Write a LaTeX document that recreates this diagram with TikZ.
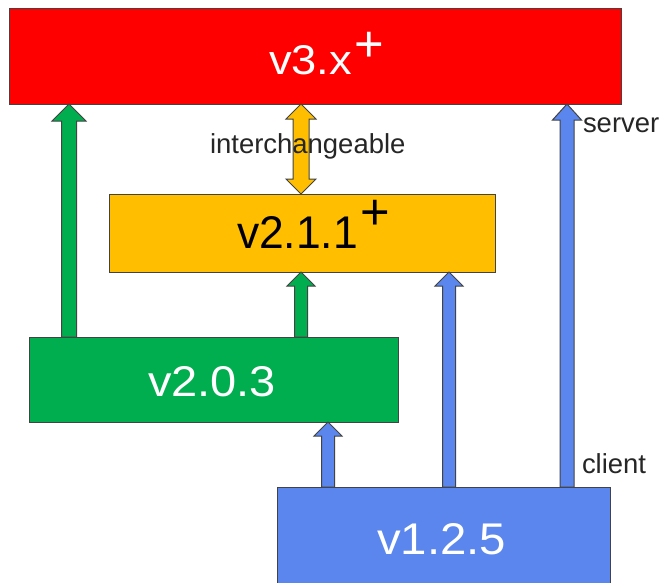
\documentclass[tikz,border=0pt]{standalone}
\usepackage{fontspec}
\setmainfont{Liberation Sans}
\usetikzlibrary{calc}
\definecolor{cRed}{HTML}{FF0000}
\definecolor{cOrange}{HTML}{FFBF00}
\definecolor{cGreen}{HTML}{00AD4F}
\definecolor{cBlue}{HTML}{5A86EE}
\definecolor{cLine}{HTML}{434343}
\definecolor{cText}{HTML}{262626}
\tikzset{
  box/.style={rectangle, draw=cLine, line width=0.75pt, inner sep=0pt, outer sep=0pt},
  arrline/.style={draw=cLine, line width=0.75pt, line join=miter},
  bigtext/.style={anchor=base west, inner sep=0pt, outer sep=0pt},
  smalltext/.style={anchor=base west, inner sep=0pt, outer sep=0pt, text=cText, font=\fontsize{20.6pt}{24pt}\selectfont},
  plustext/.style={anchor=base, inner sep=0pt, outer sep=0pt, font=\fontsize{38pt}{40pt}\selectfont}
}
\newcommand\uparr[6]{%
  \draw[arrline, fill=#1] let \p1=(#2), \p2=(#3) in
    (\x1-#4*0.75pt,\y1) -- (\x1-#4*0.75pt,\y2-#6*0.75pt) -- (\x1-#5*0.75pt,\y2-#6*0.75pt) -- (\x1,\y2)
    -- (\x1+#5*0.75pt,\y2-#6*0.75pt) -- (\x1+#4*0.75pt,\y2-#6*0.75pt) -- (\x1+#4*0.75pt,\y1) -- cycle;}
\begin{document}
\begin{tikzpicture}[x=0.75pt,y=-0.75pt]
\useasboundingbox (0,0) rectangle (664,582);
\clip (0,0) rectangle (664,582);
\fill[white] (0,0) rectangle (664,582);
% boxes
\node[box, fill=cRed, minimum width=612*0.75pt, minimum height=96*0.75pt] (red) at (315,56) {};
\node[box, fill=cOrange, minimum width=386*0.75pt, minimum height=78*0.75pt] (orange) at (302,233) {};
\node[box, fill=cGreen, minimum width=369*0.75pt, minimum height=85*0.75pt] (green) at (213.5,379.5) {};
\node[box, fill=cBlue, minimum width=333*0.75pt, minimum height=103*0.75pt] (blue) at (443.5,538.5) {};
% arrow columns
\coordinate (A) at (69,0);
\coordinate (B) at (301,0);
\coordinate (C) at (328,0);
\coordinate (D) at (449,0);
\coordinate (E) at (567,0);
% arrows
\uparr{cGreen}{green.north -| A}{red.south -| A}{7.5}{17}{17}
\uparr{cGreen}{green.north -| B}{orange.south -| B}{6.5}{14}{14}
\uparr{cBlue}{blue.north -| C}{green.south -| C}{6.5}{14}{14}
\uparr{cBlue}{blue.north -| D}{orange.south -| D}{6.5}{14}{14}
\uparr{cBlue}{blue.north -| E}{red.south -| E}{7}{14.5}{16}
\draw[arrline, fill=cOrange] let \p1=(orange.north -| B), \p2=(red.south -| B) in
  (\x1,\y1) -- (\x1-15*0.75pt,\y1+15*0.75pt) -- (\x1-8*0.75pt,\y1+15*0.75pt) -- (\x1-8*0.75pt,\y2-15*0.75pt)
  -- (\x1-15*0.75pt,\y2-15*0.75pt) -- (\x1,\y2) -- (\x1+15*0.75pt,\y2-15*0.75pt) -- (\x1+8*0.75pt,\y2-15*0.75pt)
  -- (\x1+8*0.75pt,\y1+15*0.75pt) -- (\x1+15*0.75pt,\y1+15*0.75pt) -- cycle;
% labels
\node[bigtext, text=white] (t3) at (269,74) {\resizebox{62.25pt}{21.75pt}{v3.x}};
\node[plustext, text=white] (p3) at (369,61) {+};
\node[bigtext, text=black] (t2) at (237,248) {\resizebox{90.75pt}{24pt}{v2.1.1}};
\node[plustext, text=black] (p2) at (375,229) {+};
\node[bigtext, text=white] (t203) at (148,396) {\resizebox{96pt}{22.5pt}{v2.0.3}};
\node[bigtext, text=white] (t125) at (377,554) {\resizebox{96.75pt}{23.25pt}{v1.2.5}};
\node[smalltext] (inter) at (210,153) {interchangeable};
\node[smalltext] (server) at (583,132) {server};
\node[smalltext] (client) at (582,473) {client};
\end{tikzpicture}
\end{document}
